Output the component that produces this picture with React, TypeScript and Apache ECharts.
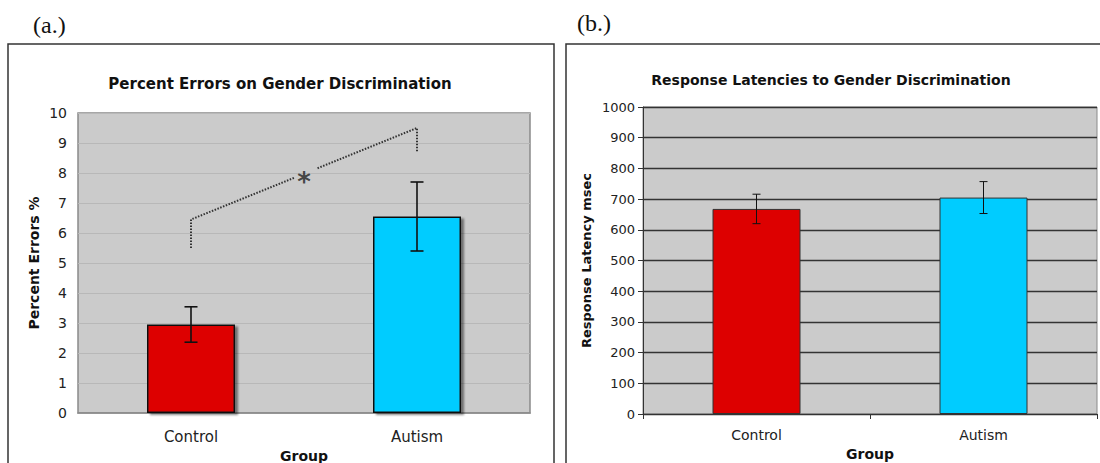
import React, { useEffect, useRef } from "react";
import * as echarts from "echarts";

const groups = ["Control", "Autism"];
const errorPctMean = [2.95, 6.55];
const errorPctSE = [0.59, 1.15];
const latencyMean = [668, 705];
const latencySE = [48, 52];
const barColors = ["#dd0000", "#00ccff"];

// significance bracket (hidden value x-axis 0..2, categories at 0.5 / 1.5)
const sigLeft = [[0.5, 5.5], [0.5, 6.45], [0.96, 7.85]];
const sigRight = [[1.06, 8.16], [1.5, 9.5], [1.5, 8.7]];
const sigStar = [[1.0, 7.93]];

const FONT = "DejaVu Sans, Verdana, sans-serif";

function errorSeries(mean: number[], se: number[], xi: number, yi: number, cap: number, lw: number) {
  return {
    type: "custom",
    xAxisIndex: xi,
    yAxisIndex: yi,
    z: 10,
    data: mean.map((m, i) => [i, m - se[i], m + se[i]]),
    renderItem: (params: any, api: any) => {
      const x = api.value(0);
      const lo = api.coord([x, api.value(1)]);
      const hi = api.coord([x, api.value(2)]);
      const st = { stroke: "#111", lineWidth: lw };
      return {
        type: "group",
        children: [
          { type: "line", shape: { x1: lo[0], y1: lo[1], x2: hi[0], y2: hi[1] }, style: st },
          { type: "line", shape: { x1: lo[0] - cap, y1: lo[1], x2: lo[0] + cap, y2: lo[1] }, style: st },
          { type: "line", shape: { x1: hi[0] - cap, y1: hi[1], x2: hi[0] + cap, y2: hi[1] }, style: st },
        ],
      };
    },
  };
}

export default function App() {
  const ref = useRef<HTMLDivElement>(null);
  useEffect(() => {
    document.body.style.margin = "0";
    const chart = echarts.init(ref.current!, null, { renderer: "svg" });
    const option: any = {
      animation: false,
      backgroundColor: "#ffffff",
      textStyle: { fontFamily: FONT },
      graphic: [
        { type: "rect", shape: { x: 8, y: 44, width: 546, height: 440 }, style: { fill: "none", stroke: "#333", lineWidth: 1.5 }, z: 0 },
        { type: "rect", shape: { x: 566, y: 44, width: 560, height: 440 }, style: { fill: "none", stroke: "#333", lineWidth: 1.5 }, z: 0 },
        { type: "text", x: 33, y: 25, style: { text: "(a.)", font: "24px 'Liberation Serif', serif", fill: "#111", verticalAlign: "middle" } },
        { type: "text", x: 577, y: 23, style: { text: "(b.)", font: "24px 'Liberation Serif', serif", fill: "#111", verticalAlign: "middle" } },
        { type: "text", x: 280, y: 84, style: { text: "Percent Errors on Gender Discrimination", font: "bold 15px " + FONT, fill: "#111", align: "center", verticalAlign: "middle" } },
        { type: "text", x: 831, y: 80, style: { text: "Response Latencies to Gender Discrimination", font: "bold 14px " + FONT, fill: "#111", align: "center", verticalAlign: "middle" } },
      ],
      grid: [
        { left: 78, top: 113, width: 452, height: 300, show: true, backgroundColor: "#cbcbcb", borderColor: "#8a8a8a", borderWidth: 1.5, outerBoundsMode: "none", containLabel: false },
        { left: 643, top: 107, width: 454, height: 307, show: true, backgroundColor: "#cbcbcb", borderColor: "#8a8a8a", borderWidth: 1, outerBoundsMode: "none", containLabel: false },
      ],
      xAxis: [
        {
          type: "category", gridIndex: 0, data: groups,
          axisLine: { lineStyle: { color: "#8a8a8a", width: 1.5 } }, axisTick: { show: false },
          axisLabel: { fontSize: 15, color: "#222", margin: 16, fontFamily: FONT },
          name: "Group", nameLocation: "middle", nameGap: 30,
          nameTextStyle: { fontSize: 14, fontWeight: "bold", color: "#111", fontFamily: FONT },
        },
        {
          type: "category", gridIndex: 1, data: groups,
          axisLine: { lineStyle: { color: "#333", width: 1 } },
          axisTick: { show: true, length: 5, lineStyle: { color: "#333" } },
          axisLabel: { fontSize: 14, color: "#222", margin: 14, fontFamily: FONT },
          name: "Group", nameLocation: "middle", nameGap: 30,
          nameTextStyle: { fontSize: 14, fontWeight: "bold", color: "#111", fontFamily: FONT },
        },
        { type: "value", gridIndex: 0, min: 0, max: 2, show: false },
      ],
      yAxis: [
        {
          type: "value", gridIndex: 0, min: 0, max: 10, interval: 1,
          axisLine: { show: false }, axisTick: { show: false },
          axisLabel: { fontSize: 14, color: "#222", margin: 11, fontFamily: FONT },
          splitLine: { lineStyle: { color: "#b8b8b8", width: 1 } },
          name: "Percent Errors %", nameLocation: "middle", nameGap: 37,
          nameTextStyle: { fontSize: 14, fontWeight: "bold", color: "#111", fontFamily: FONT },
        },
        {
          type: "value", gridIndex: 1, min: 0, max: 1000, interval: 100,
          axisLine: { show: true, lineStyle: { color: "#333", width: 1 } },
          axisTick: { show: true, length: 5, lineStyle: { color: "#333" } },
          axisLabel: { fontSize: 13, color: "#222", margin: 8, fontFamily: FONT, formatter: (v: number) => String(v) },
          splitLine: { lineStyle: { color: "#333", width: 1.3 } },
          name: "Response Latency msec", nameLocation: "middle", nameGap: 50,
          nameTextStyle: { fontSize: 13, fontWeight: "bold", color: "#111", fontFamily: FONT },
        },
      ],
      series: [
        {
          type: "bar", xAxisIndex: 0, yAxisIndex: 0, barWidth: 88,
          data: errorPctMean.map((v, i) => ({
            value: v,
            itemStyle: {
              color: barColors[i], borderColor: "#111", borderWidth: 1.5,
              shadowColor: "rgba(0,0,0,0.45)", shadowOffsetX: 3, shadowOffsetY: 2, shadowBlur: 2,
            },
          })),
        },
        {
          type: "bar", xAxisIndex: 1, yAxisIndex: 1, barWidth: 88,
          data: latencyMean.map((v, i) => ({
            value: v,
            itemStyle: { color: barColors[i], borderColor: "#333", borderWidth: 1 },
          })),
        },
        errorSeries(errorPctMean, errorPctSE, 0, 0, 6.5, 1.6),
        errorSeries(latencyMean, latencySE, 1, 1, 4, 1),
        {
          type: "line", xAxisIndex: 2, yAxisIndex: 0, data: sigLeft, symbol: "none", z: 5,
          lineStyle: { color: "#333", width: 2, type: [1.5, 1.5] },
        },
        {
          type: "line", xAxisIndex: 2, yAxisIndex: 0, data: sigRight, symbol: "none", z: 5,
          lineStyle: { color: "#333", width: 2, type: [1.5, 1.5] },
        },
        {
          type: "scatter", xAxisIndex: 2, yAxisIndex: 0, data: sigStar, symbolSize: 1, z: 6,
          itemStyle: { color: "rgba(0,0,0,0)" },
          label: { show: true, position: "inside", formatter: "*", fontSize: 26, fontWeight: "bold", color: "#222", offset: [0, 7], fontFamily: FONT },
        },
      ],
    };
    chart.setOption(option);
    return () => chart.dispose();
  }, []);
  return <div ref={ref} style={{ position: "fixed", left: 0, top: 0, width: 1100, height: 463 }} />;
}
